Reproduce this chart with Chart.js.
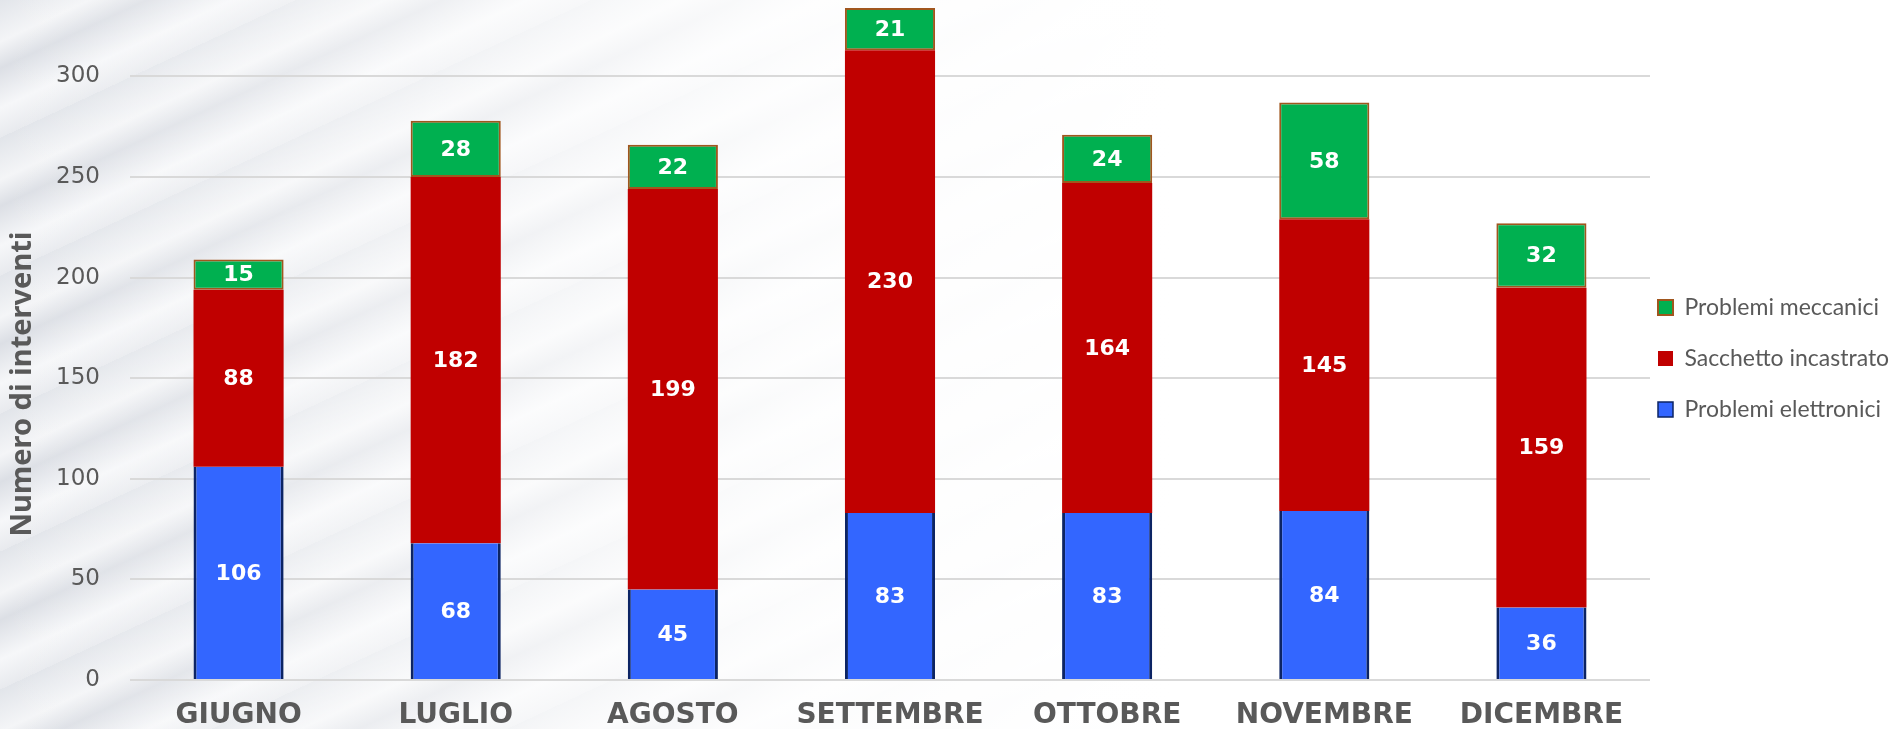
<!DOCTYPE html>
<html lang="it">
<head>
    <meta charset="UTF-8">
    <title>Numero di interventi per mese</title>
    <script src="https://cdn.jsdelivr.net/npm/chart.js@4.4.1/dist/chart.umd.min.js"></script>
    <style>
        html, body { margin: 0; padding: 0; }
        body {
            width: 1891px;
            height: 729px;
            overflow: hidden;
            /* silver streaky backdrop, fading to white on the right */
            background:
                linear-gradient(90deg, rgba(255,255,255,0) 0%, rgba(255,255,255,0.45) 20%, rgba(255,255,255,0.88) 42%, #fff 62%),
                repeating-linear-gradient(155deg, #e2e5ea 0px, #f4f5f7 38px, #dcdfe5 62px, #f6f7f9 98px, #e8eaee 125px);
        }
        .chart-box { position: relative; width: 1891px; height: 729px; }
    </style>
</head>
<body>
    <div class="chart-box"><canvas id="interventiChart"></canvas></div>

    <script>
        const mesi = ['GIUGNO', 'LUGLIO', 'AGOSTO', 'SETTEMBRE', 'OTTOBRE', 'NOVEMBRE', 'DICEMBRE'];
        const problemiElettronici = [106, 68, 45, 83, 83, 84, 36];
        const sacchettoIncastrato = [88, 182, 199, 230, 164, 145, 159];
        const problemiMeccanici = [15, 28, 22, 21, 24, 58, 32];
        const yTicks = [0, 50, 100, 150, 200, 250, 300];

        const GREY_TEXT = '#595959';

        // white value in the middle of every stacked segment
        const valueLabels = {
            id: 'valueLabels',
            afterDatasetsDraw(chart) {
                const ctx = chart.ctx;
                ctx.save();
                ctx.font = "bold 22px 'DejaVu Sans', sans-serif";
                ctx.fillStyle = '#ffffff';
                ctx.textAlign = 'center';
                ctx.textBaseline = 'middle';
                chart.data.datasets.forEach((ds, i) => {
                    const meta = chart.getDatasetMeta(i);
                    if (meta.hidden) return;
                    meta.data.forEach((bar, j) => {
                        ctx.fillText(String(ds.data[j]), bar.x, (bar.y + bar.base) / 2 + 1);
                    });
                });
                ctx.restore();
            }
        };

        // y title sits lower than the axis centre in the original
        const yTitle = {
            id: 'yTitle',
            afterDraw(chart) {
                const ctx = chart.ctx;
                ctx.save();
                ctx.translate(23, 384);
                ctx.rotate(-Math.PI / 2);
                ctx.font = "bold 29px 'Noto Sans', sans-serif";
                ctx.fillStyle = GREY_TEXT;
                ctx.textAlign = 'center';
                ctx.textBaseline = 'middle';
                ctx.fillText('Numero di interventi', 0, 0);
                ctx.restore();
            }
        };

        // nudge legend items closer to the plot (keep right edge so text isn't clipped)
        const legendShift = {
            id: 'legendShift',
            afterLayout(chart) {
                const lg = chart.legend;
                if (!lg) return;
                lg.left -= 20;
                lg.top -= 7; lg.bottom -= 7;
            }
        };

        new Chart(document.getElementById('interventiChart'), {
            type: 'bar',
            data: {
                labels: mesi,
                datasets: [
                    {
                        label: 'Problemi elettronici',
                        data: problemiElettronici,
                        backgroundColor: '#3366FF',
                        borderColor: '#0C2464',
                        borderWidth: { left: 3, right: 3, top: 0, bottom: 0 },
                        borderSkipped: false
                    },
                    {
                        label: 'Sacchetto incastrato',
                        data: sacchettoIncastrato,
                        backgroundColor: '#C00000',
                        borderWidth: 0
                    },
                    {
                        label: 'Problemi meccanici',
                        data: problemiMeccanici,
                        backgroundColor: '#00B050',
                        borderColor: '#A0561E',
                        borderWidth: 2,
                        borderSkipped: false
                    }
                ]
            },
            options: {
                responsive: true,
                maintainAspectRatio: false,
                animation: false,
                datasets: { bar: { barPercentage: 0.415, categoryPercentage: 1 } },
                layout: { padding: { top: 2, right: 0, bottom: 0, left: 0 } },
                scales: {
                    x: {
                        stacked: true,
                        grid: { display: false, drawTicks: false },
                        border: { display: false },
                        ticks: {
                            color: GREY_TEXT,
                            font: { family: "'DejaVu Sans', sans-serif", size: 28, weight: 'bold', lineHeight: 1 },
                            padding: 22,
                            maxRotation: 0,
                            autoSkip: false
                        },
                        afterFit(scale) { scale.height = 49; }
                    },
                    y: {
                        stacked: true,
                        min: 0,
                        max: 337,
                        grid: { color: '#D9D9D9', lineWidth: 2, drawTicks: false },
                        border: { display: false },
                        ticks: {
                            color: GREY_TEXT,
                            font: { family: "'DejaVu Sans', sans-serif", size: 23 },
                            padding: 30
                        },
                        afterBuildTicks(scale) { scale.ticks = yTicks.map(v => ({ value: v })); },
                        afterFit(scale) {
                            scale.width = 130;
                            scale.paddingTop = 0;
                            scale.paddingBottom = 0;
                        }
                    }
                },
                plugins: {
                    legend: {
                        position: 'right',
                        reverse: true,
                        maxWidth: 241,
                        labels: {
                            color: GREY_TEXT,
                            font: { family: 'Lato, sans-serif', size: 23 },
                            boxWidth: 15,
                            boxHeight: 15,
                            padding: 28
                        }
                    },
                    tooltip: { enabled: false }
                }
            },
            plugins: [valueLabels, yTitle, legendShift]
        });
    </script>
</body>
</html>
